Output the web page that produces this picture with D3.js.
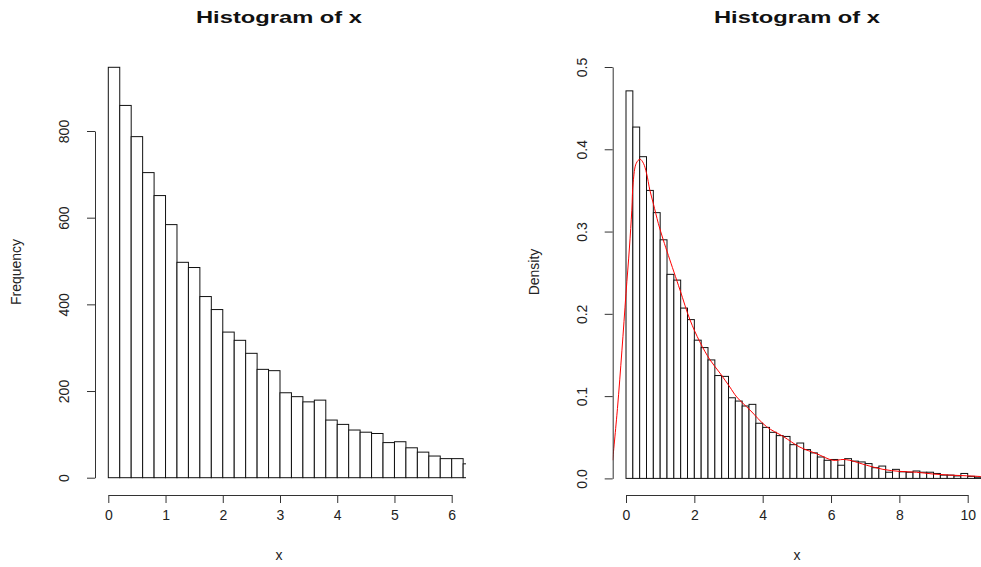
<!DOCTYPE html>
<html>
<head>
<meta charset="utf-8">
<script src="https://cdn.jsdelivr.net/npm/d3@7"></script>
<style>
  body { margin: 0; background: #fff; }
  svg { font-family: "Liberation Sans", Arial, sans-serif; }
  .axis path, .axis line { stroke: #333; stroke-width: 1; }
  .axis text { font-size: 14px; fill: #222; }
</style>
</head>
<body>
<svg id="chart"></svg>
<script>
// bins are 0.2 wide, starting at 0
var binWidth = 0.2;

// left histogram: counts per bin (last one is cut off by the plot edge)
var counts = [947, 859, 787, 704, 651, 584, 497, 485, 418, 388, 336, 317, 287, 250, 247, 196,
  187, 175, 179, 133, 123, 110, 105, 102, 81, 83, 69, 59, 50, 44, 44, 32];

// right histogram: density per bin
var densities = [0.471, 0.427, 0.391, 0.350, 0.323, 0.290, 0.248, 0.241, 0.207, 0.193, 0.168,
  0.159, 0.144, 0.125, 0.124, 0.098, 0.094, 0.088, 0.090, 0.067, 0.062, 0.056, 0.052, 0.051,
  0.041, 0.043, 0.035, 0.031, 0.026, 0.022, 0.023, 0.016, 0.024, 0.021, 0.020, 0.018, 0.013,
  0.015, 0.0075, 0.011, 0.008, 0.0075, 0.009, 0.0075, 0.0075, 0.006, 0.004, 0.004, 0.003,
  0.006, 0.0025, 0.0015];

// kernel density curve
var kdeX = [-0.39, -0.25, -0.12, 0, 0.1, 0.17, 0.21, 0.3, 0.41, 0.51, 0.6, 0.7, 0.8, 0.945, 1.09,
  1.24, 1.58, 1.87, 2.16, 2.46, 2.75, 3.04, 3.24, 3.63, 4.11, 4.6, 5.09, 5.58, 6.06, 6.35, 6.55,
  7.04, 7.52, 8.01, 8.5, 8.99, 9.47, 9.96, 10.5];
var kdeY = [0.022, 0.085, 0.155, 0.225, 0.28, 0.326, 0.36, 0.383, 0.388, 0.383, 0.371, 0.350,
  0.334, 0.31, 0.29, 0.271, 0.229, 0.193, 0.166, 0.144, 0.128, 0.111, 0.099, 0.083, 0.063,
  0.051, 0.038, 0.030, 0.022, 0.023, 0.022, 0.016, 0.011, 0.0085, 0.0075, 0.0053, 0.004,
  0.0032, 0.002];

var leftXTicks = [0, 1, 2, 3, 4, 5, 6];
var leftYTicks = [0, 200, 400, 600, 800];
var rightXTicks = [0, 2, 4, 6, 8, 10];
var rightYTicks = [0, 0.1, 0.2, 0.3, 0.4, 0.5];

var svgWidth = 981, svgHeight = 567;

var svg = d3.select("#chart")
  .attr("width", svgWidth)
  .attr("height", svgHeight);

var defs = svg.append("defs");

function drawPanel(opt) {
  var x = d3.scaleLinear().domain(opt.xDomain).range(opt.xRange);
  var y = d3.scaleLinear().domain(opt.yDomain).range(opt.yRange);

  defs.append("clipPath").attr("id", opt.id + "-clip")
    .append("rect")
    .attr("x", opt.clip[0]).attr("y", 0)
    .attr("width", opt.clip[1] - opt.clip[0]).attr("height", opt.axisY);

  var plot = svg.append("g").attr("clip-path", "url(#" + opt.id + "-clip)");

  plot.selectAll("rect.bar")
    .data(opt.values)
    .enter().append("rect")
    .attr("class", "bar")
    .attr("x", (d, i) => x(i * binWidth))
    .attr("width", (d, i) => x((i + 1) * binWidth) - x(i * binWidth))
    .attr("y", d => y(d))
    .attr("height", d => y(0) - y(d))
    .attr("fill", "#fff")
    .attr("stroke", "#111")
    .attr("stroke-width", 1);

  if (opt.curveX) {
    var line = d3.line()
      .x((d, i) => x(opt.curveX[i]))
      .y(d => y(d))
      .curve(d3.curveCatmullRom);
    plot.append("path")
      .attr("d", line(opt.curveY))
      .attr("fill", "none")
      .attr("stroke", "#ff0000")
      .attr("stroke-width", 1);
  }

  // x axis
  var xAxis = svg.append("g")
    .attr("class", "axis")
    .attr("transform", "translate(0," + opt.axisY + ")")
    .call(d3.axisBottom(x).tickValues(opt.xTicks).tickSize(8).tickSizeOuter(0).tickFormat(d3.format("d")));
  xAxis.selectAll("text").attr("y", 25).attr("dy", 0);

  // y axis, labels turned like R does
  var yAxis = svg.append("g")
    .attr("class", "axis")
    .attr("transform", "translate(" + opt.axisX + ",0)")
    .call(d3.axisLeft(y).tickValues(opt.yTicks).tickSize(8).tickSizeOuter(0).tickFormat(opt.yFormat));
  yAxis.selectAll("text")
    .attr("x", 0).attr("dy", 0)
    .attr("text-anchor", "middle")
    .attr("transform", "translate(-26,0) rotate(-90)");

  svg.append("text")
    .attr("x", opt.titleX)
    .attr("y", 23)
    .attr("text-anchor", "middle")
    .attr("textLength", 166)
    .attr("lengthAdjust", "spacingAndGlyphs")
    .style("font-size", "17px")
    .style("font-weight", "bold")
    .style("fill", "#111")
    .text("Histogram of x");

  svg.append("text")
    .attr("x", opt.titleX)
    .attr("y", opt.axisY + 65)
    .attr("text-anchor", "middle")
    .style("font-size", "14px")
    .style("fill", "#222")
    .text("x");

  svg.append("text")
    .attr("transform", "translate(" + (opt.axisX - 74) + ",272) rotate(-90)")
    .attr("text-anchor", "middle")
    .style("font-size", "14px")
    .style("fill", "#222")
    .text(opt.yLabel);
}

drawPanel({
  id: "left",
  values: counts,
  xDomain: [0, 6], xRange: [108.3, 451.7],
  yDomain: [0, 800], yRange: [477.7, 131],
  clip: [95, 466],
  axisX: 95, axisY: 495,
  xTicks: leftXTicks, yTicks: leftYTicks,
  yFormat: d3.format("d"),
  titleX: 279,
  yLabel: "Frequency"
});

drawPanel({
  id: "right",
  values: densities,
  curveX: kdeX, curveY: kdeY,
  xDomain: [0, 10], xRange: [626, 967.7],
  yDomain: [0, 0.5], yRange: [478.4, 67],
  clip: [612.7, 981],
  axisX: 612.7, axisY: 495,
  xTicks: rightXTicks, yTicks: rightYTicks,
  yFormat: d3.format(".1f"),
  titleX: 797,
  yLabel: "Density"
});
</script>
</body>
</html>
